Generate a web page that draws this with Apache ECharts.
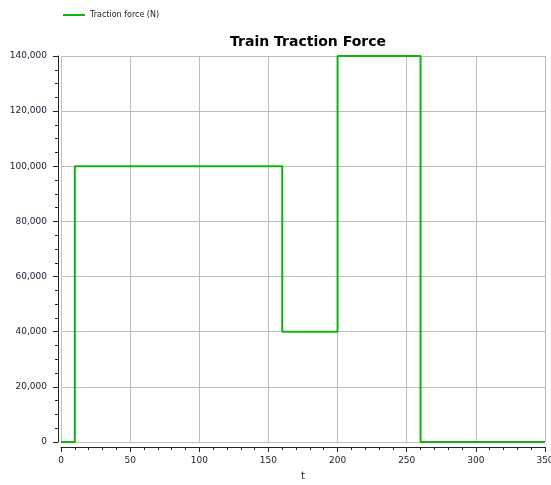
<!DOCTYPE html>
<html><head><meta charset="utf-8">
<script src="https://cdn.jsdelivr.net/npm/echarts@6/dist/echarts.min.js"></script>
<style>html,body{margin:0;padding:0;background:#fff}#c{width:551px;height:485px}</style>
</head><body><div id="c"></div>
<script>
const times = [0, 10, 160, 200, 260, 350];
const force = [0, 100000, 40000, 140000, 0, 0];
const seriesName = 'Traction force (N)';
const titleText = 'Train Traction Force';
const xName = 't';

const font = 'DejaVu Sans';
const chart = echarts.init(document.getElementById('c'));
chart.setOption({
  animation: false,
  title: {text: titleText, left: 303, textAlign: 'center', top: 30,
    textStyle: {fontFamily: font, fontSize: 14, fontWeight: 'bold', color: '#000'}},
  legend: {left: 58, top: 6, icon: 'rect', itemWidth: 22, itemHeight: 2, itemGap: 6,
    textStyle: {fontFamily: font, fontSize: 8, color: '#222'}},
  grid: {left: 61, right: 6, top: 56, bottom: 43, containLabel: false, outerBoundsMode: 'none'},
  xAxis: {type: 'value', min: 0, max: 350, interval: 50, offset: 5,
    name: xName, nameLocation: 'middle', nameGap: 24,
    nameTextStyle: {fontFamily: font, fontSize: 10, color: '#222'},
    axisLine: {show: true, onZero: false, lineStyle: {color: '#222', width: 1}},
    axisTick: {show: true, length: 5, lineStyle: {color: '#222'}},
    minorTick: {show: true, splitNumber: 5, length: 3, lineStyle: {color: '#222'}},
    axisLabel: {fontFamily: font, fontSize: 9, color: '#1a1a30', margin: 9},
    splitLine: {show: true, lineStyle: {color: '#bdbdbd', width: 1}}},
  yAxis: {type: 'value', min: 0, max: 140000, interval: 20000, offset: 3,
    axisLine: {show: true, onZero: false, lineStyle: {color: '#222', width: 1}},
    axisTick: {show: true, length: 5, lineStyle: {color: '#222'}},
    minorTick: {show: true, splitNumber: 4, length: 3, lineStyle: {color: '#222'}},
    axisLabel: {fontFamily: font, fontSize: 9, color: '#1a1a30', margin: 11,
      formatter: v => v.toLocaleString('en-US')},
    splitLine: {show: true, lineStyle: {color: '#bdbdbd', width: 1}}},
  series: [{name: seriesName, type: 'line', step: 'end', showSymbol: false,
    data: times.map((t, i) => [t, force[i]]),
    lineStyle: {color: '#14b014', width: 2}, itemStyle: {color: '#14b014'}}]
});
</script></body></html>
